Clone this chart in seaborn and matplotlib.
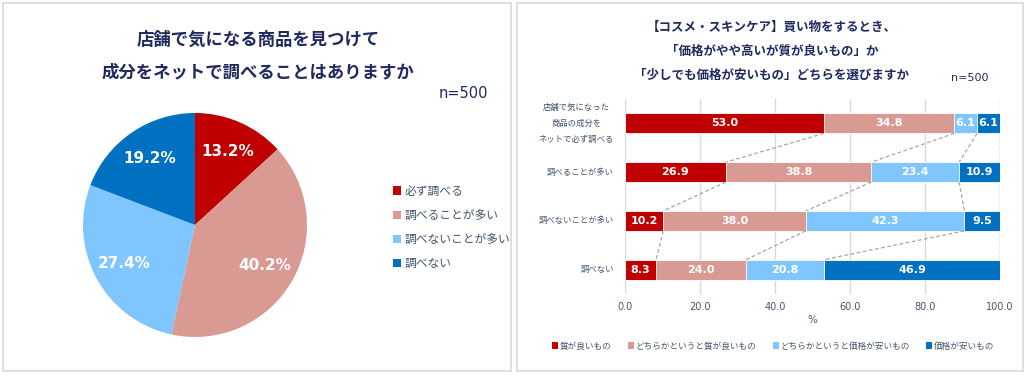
import numpy as np
import pandas as pd
import seaborn as sns
import matplotlib
matplotlib.use("Agg")
from matplotlib import pyplot as plt
from matplotlib.patches import Patch, Rectangle

# data ~~~~~~~~~~~~~~~~~~~~~~~~~~~~~~~~~~~~~~~~~~~~~~~~~~~~~~~~~~~~~~~~~
pie_labels = ["必ず調べる", "調べることが多い", "調べないことが多い", "調べない"]
pie_values = [13.2, 40.2, 27.4, 19.2]

bar_groups = ["店舗で気になった\n商品の成分を\nネットで必ず調べる", "調べることが多い",
              "調べないことが多い", "調べない"]
series_names = ["質が良いもの", "どちらかというと質が良いもの",
                "どちらかというと価格が安いもの", "価格が安いもの"]
quality = [53.0, 26.9, 10.2, 8.3]
rather_quality = [34.8, 38.8, 38.0, 24.0]
rather_cheap = [6.1, 23.4, 42.3, 20.8]
cheap = [6.1, 10.9, 9.5, 46.9]
x_ticks = [0, 20, 40, 60, 80, 100]

colors = ["#C00000", "#DA9A94", "#7FC6FF", "#0070C0"]
navy = "#1F2B5E"
txt = "#44546A"

sns.set_theme(style="white")
plt.rcParams['font.family'] = ['DejaVu Sans', 'Noto Sans CJK JP']

fig = plt.figure(figsize=(10.27, 3.75), dpi=100)
W, H = 1027, 375

def fx(px):
    return px / W

def fy(py):
    return 1 - py / H

# panel frames
for x0, x1 in [(3, 511), (517, 1023)]:
    fig.patches.append(Rectangle((fx(x0), fy(371)), fx(x1 - x0), (371 - 3) / H,
                                 transform=fig.transFigure, fill=False,
                                 edgecolor="#D9D9D9", linewidth=1.2))

# ---------------- left: pie ----------------
r = 112
ax1 = fig.add_axes([fx(195 - r), fy(225 + r), fx(2 * r), 2 * r / H])
wedges, _, autotexts = ax1.pie(pie_values, colors=colors, startangle=90, counterclock=False,
                               autopct="%.1f%%", pctdistance=0.72,
                               wedgeprops=dict(linewidth=0))
for t in autotexts:
    t.set_color("white")
    t.set_fontsize(11)
    t.set_fontweight("bold")
ax1.set_xlim(-1, 1)
ax1.set_ylim(-1, 1)
ax1.set_aspect("equal")

fig.text(fx(258), fy(40), "店舗で気になる商品を見つけて", ha="center", va="center",
         fontsize=12.5, fontweight="bold", color=navy)
fig.text(fx(258), fy(72), "成分をネットで調べることはありますか", ha="center", va="center",
         fontsize=12.5, fontweight="bold", color=navy)
fig.text(fx(488), fy(93), "n=500", ha="right", va="center", fontsize=10.5, color=navy)

handles = [Patch(facecolor=c, edgecolor="none") for c in colors]
leg1 = fig.legend(handles, pie_labels, loc="upper left", bbox_to_anchor=(fx(388), fy(180)),
                  frameon=False, fontsize=8.5, handlelength=0.7, handleheight=0.7,
                  handletextpad=0.3, labelspacing=0.95, borderaxespad=0)
for t in leg1.get_texts():
    t.set_color(txt)

# ---------------- right: stacked bars ----------------
ax2 = fig.add_axes([fx(625), fy(294), fx(375), 195 / H])
df = pd.DataFrame({"group": bar_groups, "s1": quality, "s2": rather_quality,
                   "s3": rather_cheap, "s4": cheap})
cum = df[["s1", "s2", "s3", "s4"]].cumsum(axis=1)
df["c1"], df["c2"], df["c3"], df["c4"] = cum["s1"], cum["s2"], cum["s3"], cum["s4"]

bh = 0.41
for col, c in zip(["c4", "c3", "c2", "c1"], colors[::-1]):
    sns.barplot(data=df, x=col, y="group", orient="h", color=c, width=bh,
                edgecolor="white", linewidth=0.6, saturation=1, ax=ax2)

# data labels
for i in range(len(bar_groups)):
    left = 0
    for s in ["s1", "s2", "s3", "s4"]:
        v = df.loc[i, s]
        ax2.text(left + v / 2, i, f"{v:.1f}", ha="center", va="center",
                 color="white", fontsize=8, fontweight="bold")
        left += v

# connector lines
for i in range(len(bar_groups) - 1):
    for col in ["c1", "c2", "c3", "c4"]:
        ax2.plot([df.loc[i, col], df.loc[i + 1, col]], [i + bh / 2, i + 1 - bh / 2],
                 ls=(0, (3, 2)), color="#A6A6A6", lw=0.9, zorder=1)

ax2.set_xlim(0, 100)
ax2.set_ylim(len(bar_groups) - 0.5, -0.5)
ax2.set_xticks(x_ticks)
ax2.set_xticklabels([f"{v:.1f}" for v in x_ticks], fontsize=7, color=txt)
ax2.tick_params(axis="x", length=0, pad=6)
ax2.tick_params(axis="y", length=0, pad=8)
for t in ax2.get_yticklabels():
    t.set_fontsize(6)
    t.set_color(txt)
    t.set_multialignment("center")
    t.set_linespacing(2.0)
    t.set_verticalalignment("center")
ax2.xaxis.grid(True, color="#D9D9D9", lw=1)
ax2.set_axisbelow(True)
for sp in ax2.spines.values():
    sp.set_visible(False)
ax2.set_xlabel("%", fontsize=7.5, color=txt, labelpad=2)
ax2.set_ylabel("")

fig.text(fx(772), fy(27), "【コスメ・スキンケア】買い物をするとき、", ha="center", va="center",
         fontsize=9, fontweight="bold", color=navy)
fig.text(fx(772), fy(51), "「価格がやや高いが質が良いもの」か", ha="center", va="center",
         fontsize=9, fontweight="bold", color=navy)
fig.text(fx(772), fy(75), "「少しでも価格が安いもの」どちらを選びますか", ha="center", va="center",
         fontsize=9, fontweight="bold", color=navy)
fig.text(fx(988), fy(78), "n=500", ha="right", va="center", fontsize=8, color=navy)

leg2 = fig.legend(handles, series_names, loc="center", bbox_to_anchor=(fx(773), fy(346)),
                  ncol=4, frameon=False, fontsize=6.2, handlelength=0.7, handleheight=0.7,
                  handletextpad=0.2, columnspacing=1.9, borderaxespad=0)
for t in leg2.get_texts():
    t.set_color(txt)

fig.savefig("out.png", dpi=100, facecolor="white")
